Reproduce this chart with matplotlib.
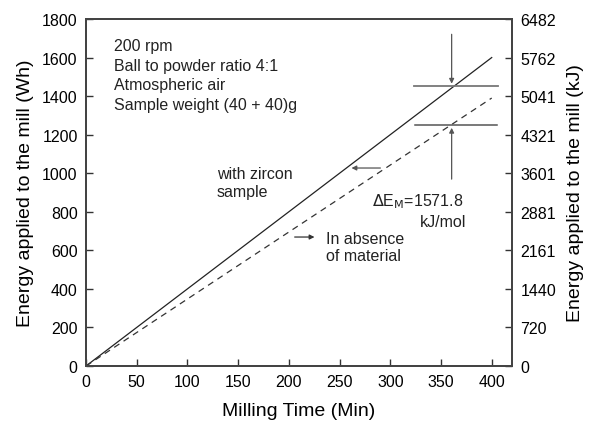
import matplotlib.pyplot as plt

plt.rcParams['font.family'] = ['Liberation Sans', 'DejaVu Sans']

# data
time_min = [0, 400]
with_zircon_wh = [0, 1600]
no_material_wh = [0, 1390]

y_ticks = [0, 200, 400, 600, 800, 1000, 1200, 1400, 1600, 1800]
kj_labels = ['0', '720', '1440', '2161', '2881', '3601', '4321', '5041', '5762', '6482']
x_ticks = [0, 50, 100, 150, 200, 250, 300, 350, 400]

info_lines = ['200 rpm', 'Ball to powder ratio 4:1', 'Atmospheric air', 'Sample weight (40 + 40)g']

# marker levels of the delta-E annotation
upper_level = 1450
lower_level = 1250
delta_x = 360.5

fs = 11.5

fig = plt.figure(figsize=(5.91, 4.27), dpi=100)
ax = fig.add_axes([86 / 591, 1 - 367 / 427, (512 - 86) / 591, (367 - 20) / 427])

ax.plot(time_min, with_zircon_wh, color='#222222', lw=0.9)
ax.plot(time_min, no_material_wh, color='#333333', lw=0.9, ls=(0, (5, 4)))

ax.set_xlim(0, 420)
ax.set_ylim(0, 1800)
ax.set_xticks(x_ticks)
ax.set_yticks(y_ticks)
ax.tick_params(direction='in', labelsize=fs, length=5, width=1, color='#333333', pad=6)
ax.set_xlabel('Milling Time (Min)', fontsize=14, labelpad=9)
ax.set_ylabel('Energy applied to the mill (Wh)', fontsize=14, labelpad=6)
for sp in ax.spines.values():
    sp.set_linewidth(1.4)
    sp.set_color('#444444')

ax2 = ax.twinx()
ax2.set_ylim(0, 1800)
ax2.set_yticks(y_ticks)
ax2.set_yticklabels(kj_labels)
ax2.tick_params(direction='in', labelsize=fs, length=5, width=1, color='#333333', pad=6)
ax2.set_ylabel('Energy applied to the mill (kJ)', fontsize=14, labelpad=8)
for sp in ax2.spines.values():
    sp.set_linewidth(1.4)
    sp.set_color('#444444')

for i, line in enumerate(info_lines):
    ax.text(28, 1660 - 101 * i, line, fontsize=fs, va='center', ha='left', color='#222222')

# horizontal reference lines and arrows
ax.plot([323, 406], [upper_level, upper_level], color='#777777', lw=1.3)
ax.plot([324, 405], [lower_level, lower_level], color='#555555', lw=1.1)
ax.annotate('', xy=(delta_x, upper_level), xytext=(delta_x, 1735),
            arrowprops=dict(arrowstyle='-|>', color='#555555', lw=0.9, mutation_scale=7))
ax.annotate('', xy=(delta_x, lower_level), xytext=(delta_x, 955),
            arrowprops=dict(arrowstyle='-|>', color='#555555', lw=0.9, mutation_scale=7))
ax.text(372, 856, r'$\Delta$E$_\mathrm{M}$=1571.8', fontsize=fs, ha='right', va='center', color='#222222')
ax.text(375, 752, 'kJ/mol', fontsize=fs, ha='right', va='center', color='#222222')

ax.annotate('', xy=(259, 1027), xytext=(293, 1027),
            arrowprops=dict(arrowstyle='-|>', color='#555555', lw=0.9, mutation_scale=7))
ax.text(129, 952, 'with zircon\nsample', fontsize=fs, ha='left', va='center',
        linespacing=1.2, color='#222222')

ax.annotate('', xy=(228, 669), xytext=(203, 669),
            arrowprops=dict(arrowstyle='-|>', color='#333333', lw=0.9, mutation_scale=7))
ax.text(237, 617, 'In absence\nof material', fontsize=fs, ha='left', va='center',
        linespacing=1.2, color='#222222')

fig.savefig('out.png', dpi=100)
